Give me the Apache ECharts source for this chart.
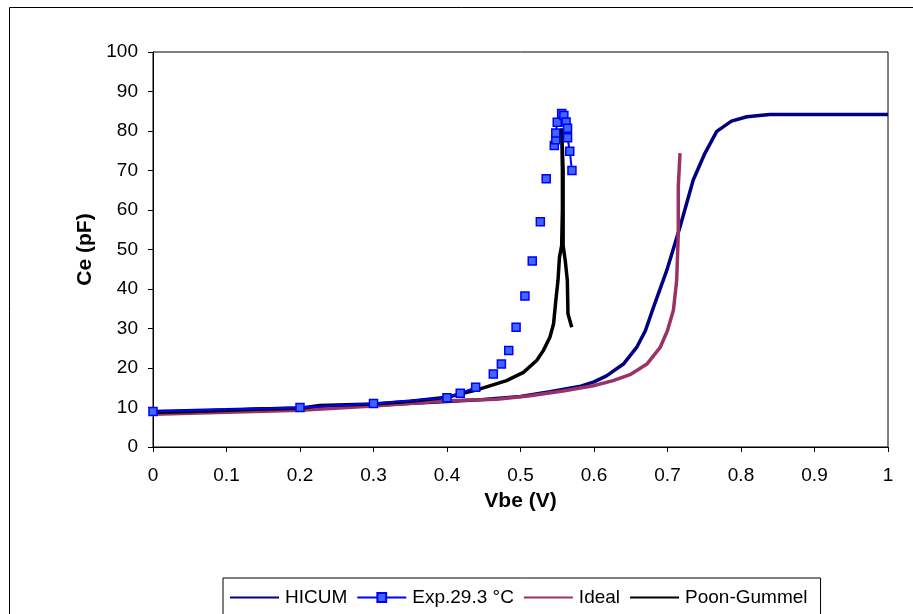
<!DOCTYPE html>
<html>
<head>
<meta charset="utf-8">
<script src="https://cdn.jsdelivr.net/npm/echarts@6/dist/echarts.min.js"></script>
<style>
html,body{margin:0;padding:0;background:#fff;}
#chart{width:913px;height:614px;}
</style>
</head>
<body>
<div id="chart"></div>
<script>
// Series names
const seriesNames = ['HICUM', 'Exp.29.3 °C', 'Ideal', 'Poon-Gummel'];

// Axis ticks
const xTicks = [0, 0.1, 0.2, 0.3, 0.4, 0.5, 0.6, 0.7, 0.8, 0.9, 1];
const yTicks = [0, 10, 20, 30, 40, 50, 60, 70, 80, 90, 100];

// HICUM model [Vbe, Ce]
const hicum = [
  [0, 9.0], [0.1, 9.4], [0.2, 9.9], [0.3, 10.6], [0.4, 11.5], [0.45, 12.0],
  [0.5, 12.8], [0.54, 14.0], [0.58, 15.3], [0.6, 16.5], [0.617, 18.0],
  [0.64, 21.0], [0.658, 25.2], [0.67, 29.5], [0.681, 35.4], [0.699, 44.7],
  [0.717, 55.7], [0.735, 67.6], [0.75, 74.0], [0.767, 79.9], [0.787, 82.5],
  [0.808, 83.6], [0.839, 84.2], [1.0, 84.2]
];

// Measurement at 29.3 °C [Vbe, Ce]; '-' marks gaps where no line is drawn
const expData = [
  [0, 9.0], [0.2, 10.0], [0.3, 11.0], [0.4, 12.5], [0.418, 13.6], [0.439, 15.1],
  ['-', '-'], [0.463, 18.5], ['-', '-'], [0.474, 21.0], ['-', '-'], [0.484, 24.4],
  ['-', '-'], [0.494, 30.3], ['-', '-'], [0.506, 38.2], ['-', '-'], [0.516, 47.1],
  ['-', '-'], [0.527, 57.0], ['-', '-'], [0.535, 67.9], ['-', '-'],
  [0.546, 76.3], [0.548, 77.8], [0.548, 79.5], [0.550, 82.2], [0.556, 84.4],
  [0.559, 83.9], [0.562, 82.3], [0.564, 80.7], [0.564, 78.3], [0.567, 74.9], [0.570, 70.0]
];

// Ideal model [Vbe, Ce]
const ideal = [
  [0, 8.3], [0.1, 8.8], [0.2, 9.3], [0.3, 10.4], [0.4, 11.7], [0.468, 12.1],
  [0.513, 13.0], [0.558, 14.2], [0.599, 15.5], [0.626, 16.8], [0.649, 18.3],
  [0.672, 21.0], [0.69, 25.2], [0.70, 29.5], [0.708, 34.6], [0.7125, 42.2],
  [0.7147, 54.1], [0.7147, 65.9], [0.717, 74.4]
];

// Poon-Gummel model [Vbe, Ce]
const poon = [
  [0, 8.8], [0.05, 9.0], [0.1, 9.3], [0.15, 9.6], [0.2, 9.8], [0.227, 10.5],
  [0.3, 10.9], [0.35, 11.6], [0.4, 12.6], [0.445, 14.7], [0.481, 16.8],
  [0.504, 18.9], [0.522, 21.9], [0.531, 24.4], [0.540, 27.8], [0.545, 31.2],
  [0.548, 37.0], [0.551, 42.2], [0.553, 48.0], [0.556, 51.0], [0.557, 60.0],
  [0.557, 70.0], [0.556, 80.7], [0.558, 70.0], [0.558, 60.0], [0.558, 51.0],
  [0.561, 47.0], [0.5637, 42.2], [0.5646, 33.7], [0.5697, 30.3]
];

const FONT = '"Liberation Sans", Arial, sans-serif';
const chart = echarts.init(document.getElementById('chart'), null, {renderer: 'canvas'});

chart.setOption({
  animation: false,
  backgroundColor: '#fff',
  graphic: [{
    type: 'rect',
    shape: {x: 9.5, y: 7.5, width: 1000, height: 1000},
    style: {fill: 'none', stroke: '#000', lineWidth: 1},
    silent: true, z: -10
  }],
  grid: {
    left: 153, right: 25, top: 52, bottom: 167,
    show: true, borderColor: '#000', borderWidth: 1, backgroundColor: 'transparent'
  },
  legend: {
    left: 223, top: 578,
    data: [
      {name: seriesNames[0], itemStyle: {opacity: 0}},
      {name: seriesNames[1]},
      {name: seriesNames[2], itemStyle: {opacity: 0}},
      {name: seriesNames[3], itemStyle: {opacity: 0}}
    ],
    itemWidth: 49, itemHeight: 11, itemGap: 9,
    padding: [10, 13, 30, 6],
    borderColor: '#000', borderWidth: 1,
    textStyle: {fontFamily: FONT, fontSize: 19, color: '#000', padding: [0, 0, 0, 1]}
  },
  xAxis: {
    type: 'value', min: 0, max: 1, interval: 0.1,
    name: 'Vbe (V)', nameLocation: 'middle', nameGap: 44,
    nameTextStyle: {fontFamily: FONT, fontSize: 21, fontWeight: 'bold', color: '#000'},
    axisLine: {show: true, onZero: false, lineStyle: {color: '#000', width: 1}},
    axisTick: {show: true, inside: false, length: 5, lineStyle: {color: '#000'}},
    axisLabel: {
      fontFamily: FONT, fontSize: 19, color: '#000', margin: 19,
      formatter: v => { const t = xTicks.find(k => Math.abs(k - v) < 1e-9); return t === undefined ? '' : String(t); }
    },
    splitLine: {show: false}
  },
  yAxis: {
    type: 'value', min: 0, max: 100, interval: 10,
    name: 'Ce (pF)', nameLocation: 'middle', nameGap: 54,
    nameTextStyle: {fontFamily: FONT, fontSize: 21, fontWeight: 'bold', color: '#000'},
    axisLine: {show: true, onZero: false, lineStyle: {color: '#000', width: 1}},
    axisTick: {show: true, inside: false, length: 5, lineStyle: {color: '#000'}},
    axisLabel: {
      fontFamily: FONT, fontSize: 19, color: '#000', margin: 15,
      formatter: v => { const t = yTicks.find(k => Math.abs(k - v) < 1e-9); return t === undefined ? '' : String(t); }
    },
    splitLine: {show: false}
  },
  series: [
    {
      name: seriesNames[0], type: 'line', data: hicum, symbol: 'none',
      lineStyle: {color: '#000080', width: 3.5}, itemStyle: {color: '#000080'}, z: 2
    },
    {
      name: seriesNames[2], type: 'line', data: ideal, symbol: 'none',
      lineStyle: {color: '#993366', width: 3.5}, itemStyle: {color: '#993366'}, z: 3
    },
    {
      name: seriesNames[3], type: 'line', data: poon, symbol: 'none',
      lineStyle: {color: '#000000', width: 3.5}, itemStyle: {color: '#000000'}, z: 4
    },
    {
      name: seriesNames[1], type: 'line', data: expData, connectNulls: false,
      symbol: 'rect', symbolSize: 8, showAllSymbol: true,
      lineStyle: {color: '#0000FF', width: 2},
      itemStyle: {color: '#3F66FF', borderColor: '#0000FF', borderWidth: 1.5}, z: 5
    }
  ]
});
</script>
</body>
</html>
